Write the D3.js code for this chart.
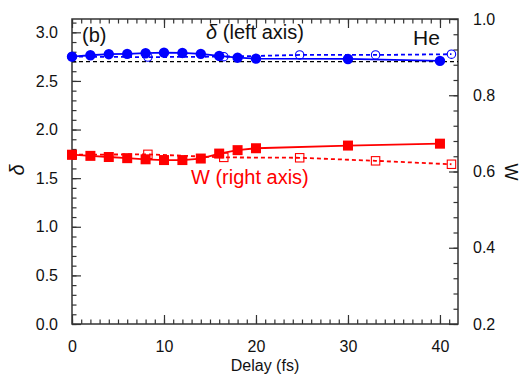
<!DOCTYPE html>
<html><head><meta charset="utf-8">
<script src="https://cdn.jsdelivr.net/npm/d3@7"></script>
<style>
html,body{margin:0;padding:0;background:#fff;}
svg{display:block;}
text{font-family:"Liberation Sans",Arial,Helvetica,sans-serif;}
</style></head>
<body>
<svg id="chart" width="521" height="374"></svg>
<script>
// ---- data ----
const delaySolid = [0, 2, 4, 6, 8, 10, 12, 14, 16, 18, 20, 30, 40];
const deltaSolid = [2.750, 2.764, 2.775, 2.778, 2.785, 2.791, 2.788, 2.778, 2.757, 2.739, 2.729, 2.726, 2.706];
const wSolid     = [0.644, 0.641, 0.638, 0.635, 0.632, 0.630, 0.630, 0.634, 0.647, 0.656, 0.661, 0.668, 0.673];
const delayDashed = [0, 8.25, 16.5, 24.75, 33, 41.25];
const deltaDashed = [2.750, 2.745, 2.750, 2.767, 2.767, 2.775];
const wDashed     = [0.644, 0.645, 0.637, 0.636, 0.628, 0.619];
const deltaRef = 2.698;
const xTicks = [0, 10, 20, 30, 40];
const yLeftTicks = [0.0, 0.5, 1.0, 1.5, 2.0, 2.5, 3.0];
const yRightTicks = [0.2, 0.4, 0.6, 0.8, 1.0];

// ---- layout ----
const L = 72, R = 458, T = 19, B = 324;
const svg = d3.select("#chart");
const x = d3.scaleLinear().domain([0, 41.96]).range([L, R]);
const yL = d3.scaleLinear().domain([0, 3.137]).range([B, T]);
const yR = d3.scaleLinear().domain([0.2, 1.0]).range([B, T]);

const axisColor = "#333";
const blue = "#0000ff", red = "#ff0000";

const xMinor = d3.range(0, 42, 1);
const yLMinor = d3.range(0, 3.11, 0.1);
const yRMinor = d3.range(0.2, 1.001, 0.04);

function styleAxis(g) {
  g.select(".domain").remove();
  g.selectAll("line").attr("stroke", axisColor).attr("stroke-width", 1.2);
  g.selectAll("text").attr("fill", "#111").style("font-size", "16px");
}

// minor ticks
svg.append("g").attr("transform", `translate(0,${B})`)
  .call(d3.axisBottom(x).tickValues(xMinor).tickSize(-4.5).tickFormat(""))
  .call(styleAxis);
svg.append("g").attr("transform", `translate(0,${T})`)
  .call(d3.axisTop(x).tickValues(xMinor).tickSize(-4.5).tickFormat(""))
  .call(styleAxis);
svg.append("g").attr("transform", `translate(${L},0)`)
  .call(d3.axisLeft(yL).tickValues(yLMinor).tickSize(-4.5).tickFormat(""))
  .call(styleAxis);
svg.append("g").attr("transform", `translate(${R},0)`)
  .call(d3.axisRight(yR).tickValues(yRMinor).tickSize(-4.5).tickFormat(""))
  .call(styleAxis);

// major ticks
svg.append("g").attr("transform", `translate(0,${B})`)
  .call(d3.axisBottom(x).tickValues(xTicks).tickSize(-9).tickPadding(17).tickFormat(d3.format("d")))
  .call(styleAxis);
svg.append("g").attr("transform", `translate(0,${T})`)
  .call(d3.axisTop(x).tickValues(xTicks).tickSize(-9).tickFormat(""))
  .call(styleAxis);
svg.append("g").attr("transform", `translate(${L},0)`)
  .call(d3.axisLeft(yL).tickValues(yLeftTicks).tickSize(-9).tickPadding(14).tickFormat(d3.format(".1f")))
  .call(styleAxis);
svg.append("g").attr("transform", `translate(${R},0)`)
  .call(d3.axisRight(yR).tickValues(yRightTicks).tickSize(-9).tickPadding(15).tickFormat(d3.format(".1f")))
  .call(styleAxis);

// frame
svg.append("rect").attr("x", L).attr("y", T).attr("width", R - L).attr("height", B - T)
  .attr("fill", "none").attr("stroke", axisColor).attr("stroke-width", 1.5);

// reference line
svg.append("line").attr("x1", L).attr("x2", R).attr("y1", yL(deltaRef)).attr("y2", yL(deltaRef))
  .attr("stroke", "#000").attr("stroke-width", 1.2).attr("stroke-dasharray", "4,3");

const lineGen = (xs, ys, ysc) => d3.line()(xs.map((d, i) => [x(d), ysc(ys[i])]));

// dashed series
svg.append("path").attr("d", lineGen(delayDashed, wDashed, yR))
  .attr("fill", "none").attr("stroke", red).attr("stroke-width", 1.8).attr("stroke-dasharray", "4,3");
svg.append("path").attr("d", lineGen(delayDashed, deltaDashed, yL))
  .attr("fill", "none").attr("stroke", blue).attr("stroke-width", 1.8).attr("stroke-dasharray", "4,3");

// solid series
svg.append("path").attr("d", lineGen(delaySolid, wSolid, yR))
  .attr("fill", "none").attr("stroke", red).attr("stroke-width", 1.8);
svg.append("path").attr("d", lineGen(delaySolid, deltaSolid, yL))
  .attr("fill", "none").attr("stroke", blue).attr("stroke-width", 1.8);

// markers: filled
svg.append("g").selectAll("rect").data(delaySolid).join("rect")
  .attr("x", (d, i) => x(d) - 5).attr("y", (d, i) => yR(wSolid[i]) - 5)
  .attr("width", 10).attr("height", 10).attr("fill", red);
svg.append("g").selectAll("circle").data(delaySolid).join("circle")
  .attr("cx", d => x(d)).attr("cy", (d, i) => yL(deltaSolid[i])).attr("r", 5.2).attr("fill", blue);

// markers: open
svg.append("g").selectAll("rect").data(delayDashed).join("rect")
  .attr("x", d => x(d) - 4.2).attr("y", (d, i) => yR(wDashed[i]) - 4.2)
  .attr("width", 8.4).attr("height", 8.4).attr("fill", "none").attr("stroke", red).attr("stroke-width", 1.1);
svg.append("g").selectAll("circle").data(delayDashed).join("circle")
  .attr("cx", d => x(d)).attr("cy", (d, i) => yL(deltaDashed[i])).attr("r", 4.2)
  .attr("fill", "none").attr("stroke", blue).attr("stroke-width", 1.1);

// annotations
svg.append("text").attr("x", 82).attr("y", 42).style("font-size", "20px").attr("fill", "#111").text("(b)");
const t1 = svg.append("text").attr("x", 255).attr("y", 39).attr("text-anchor", "middle").style("font-size", "20px").attr("fill", "#111");
t1.append("tspan").style("font-style", "italic").text("δ");
t1.append("tspan").text(" (left axis)");
svg.append("text").attr("x", 413).attr("y", 45).style("font-size", "21px").attr("fill", "#111").text("He");
svg.append("text").attr("x", 191).attr("y", 184).style("font-size", "20px").attr("fill", red).text("W (right axis)");

// axis titles
svg.append("text").attr("x", 265).attr("y", 371).attr("text-anchor", "middle").style("font-size", "16px").attr("fill", "#111").text("Delay (fs)");
svg.append("text").attr("transform", "translate(24,170) rotate(-90)").attr("text-anchor", "middle")
  .style("font-size", "20px").style("font-style", "italic").attr("fill", "#111").text("δ");
svg.append("text").attr("transform", "translate(505,172) rotate(90)").attr("text-anchor", "middle")
  .style("font-size", "18px").attr("fill", "#111").text("W");
</script>
</body></html>
